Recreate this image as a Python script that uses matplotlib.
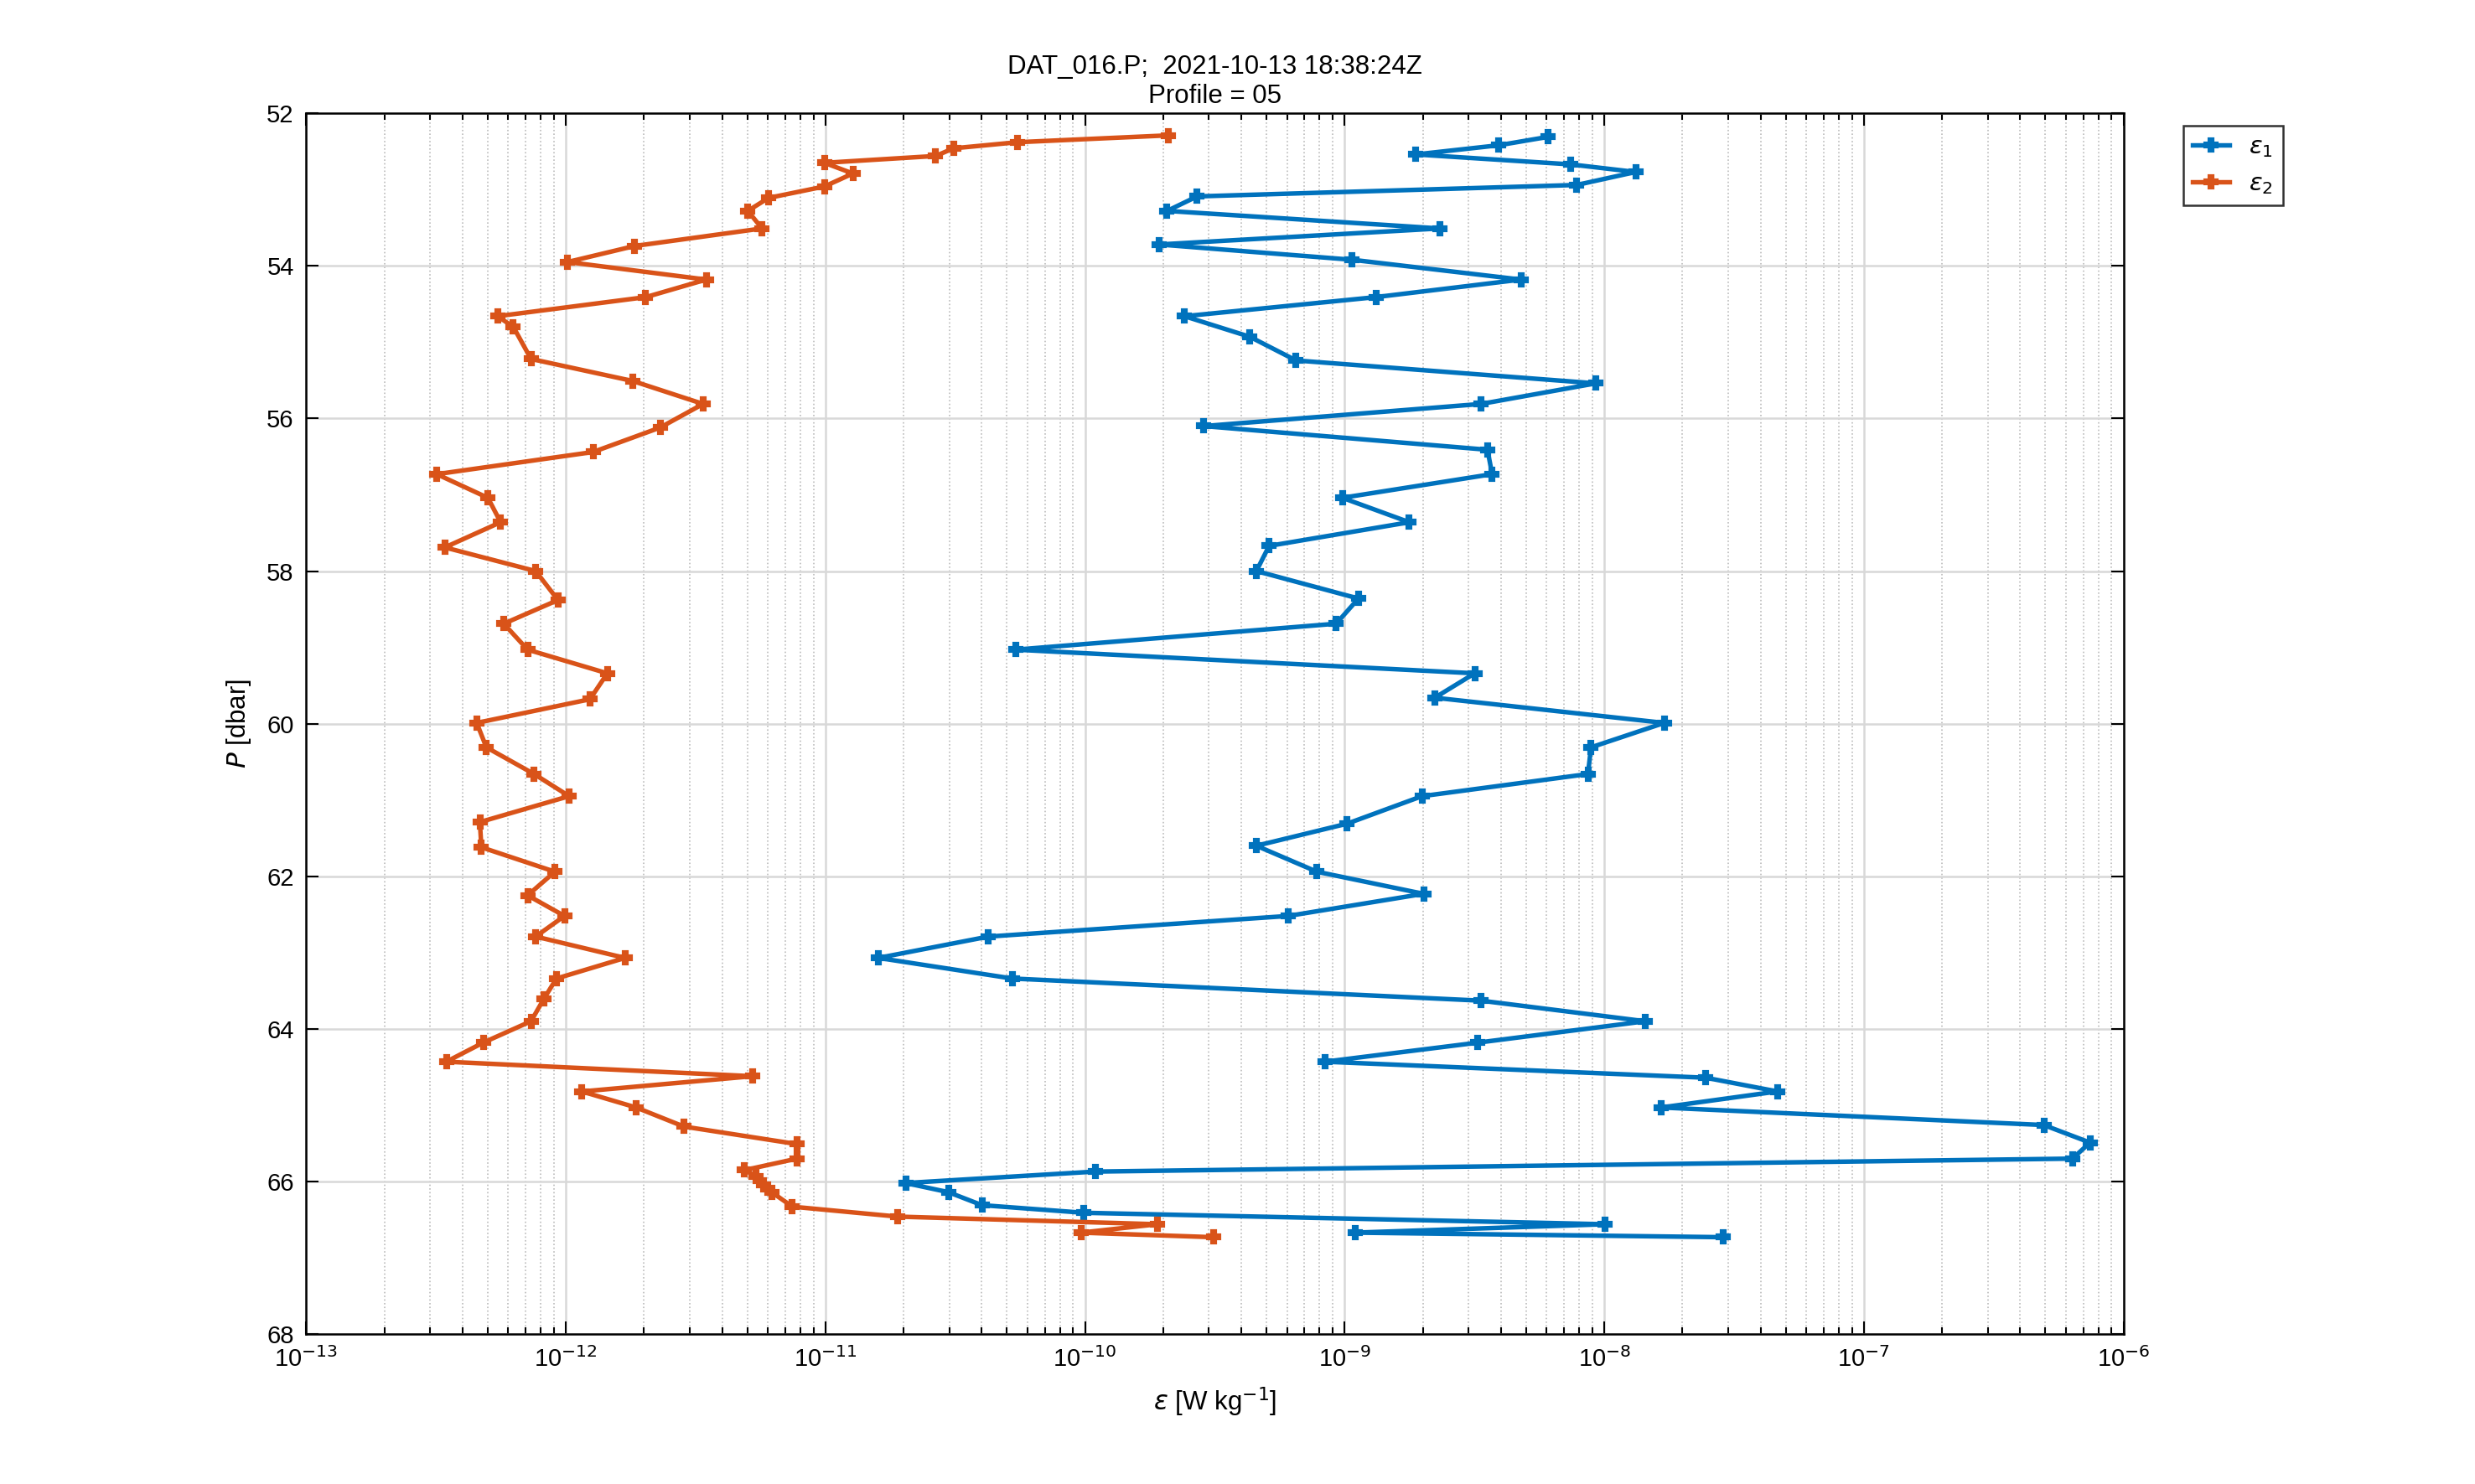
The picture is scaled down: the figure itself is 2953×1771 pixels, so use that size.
import numpy as np
import matplotlib
matplotlib.use("Agg")
import matplotlib.pyplot as plt

eps1_log = [-8.217,-8.407,-8.726,-8.131,-7.879,-8.106,-9.568,-9.684,-8.634,-9.715,-8.972,-8.321,-8.880,-9.617,-9.365,-9.187,-8.033,-8.475,-9.543,-8.450,-8.432,-9.009,-8.751,-9.291,-9.340,-8.947,-9.033,-10.268,-8.499,-8.653,-7.769,-8.051,-8.063,-8.702,-8.990,-9.340,-9.107,-8.696,-9.218,-10.372,-10.796,-10.280,-8.475,-7.842,-8.487,-9.076,-7.609,-7.333,-7.781,-6.307,-6.129,-6.197,-9.961,-10.691,-10.526,-10.397,-10.004,-7.996,-8.960,-7.541]
p1 = [52.31,52.42,52.54,52.67,52.77,52.94,53.09,53.28,53.51,53.72,53.92,54.18,54.41,54.66,54.93,55.24,55.54,55.81,56.10,56.41,56.73,57.04,57.36,57.67,58.00,58.36,58.69,59.03,59.34,59.66,59.99,60.31,60.66,60.95,61.31,61.60,61.94,62.23,62.52,62.79,63.07,63.34,63.63,63.90,64.18,64.43,64.64,64.82,65.03,65.26,65.49,65.70,65.87,66.02,66.14,66.31,66.41,66.56,66.67,66.73]
eps2_log = [-9.678,-10.261,-10.507,-10.575,-11.004,-10.894,-11.004,-11.219,-11.299,-11.244,-11.735,-11.993,-11.459,-11.692,-12.263,-12.202,-12.134,-11.741,-11.471,-11.637,-11.895,-12.497,-12.300,-12.251,-12.466,-12.116,-12.030,-12.239,-12.147,-11.840,-11.907,-12.343,-12.306,-12.122,-11.987,-12.331,-12.325,-12.042,-12.147,-12.005,-12.116,-11.772,-12.036,-12.085,-12.134,-12.318,-12.460,-11.281,-11.938,-11.729,-11.545,-11.109,-11.109,-11.311,-11.268,-11.238,-11.207,-11.127,-10.722,-9.721,-10.016,-9.506]
p2 = [52.29,52.38,52.46,52.56,52.65,52.79,52.96,53.11,53.28,53.51,53.74,53.95,54.18,54.41,54.66,54.80,55.22,55.51,55.81,56.12,56.44,56.73,57.04,57.36,57.69,58.00,58.38,58.69,59.03,59.34,59.68,59.99,60.31,60.66,60.95,61.29,61.62,61.94,62.25,62.52,62.79,63.07,63.34,63.61,63.90,64.18,64.43,64.62,64.82,65.03,65.28,65.51,65.70,65.85,65.93,66.04,66.14,66.33,66.46,66.56,66.67,66.73]

plt.rcParams['font.family'] = ['Liberation Sans', 'DejaVu Sans']
fig = plt.figure(figsize=(2953/300, 1771/300), dpi=300)
ax = fig.add_axes([0.1237, 0.101, 0.858-0.1237, 0.9237-0.101])
ax.plot(10**np.array(eps1_log), p1, '-P', color='#0072BD', lw=1.3, ms=3.5, label=r'$\epsilon_1$')
ax.plot(10**np.array(eps2_log), p2, '-P', color='#D95319', lw=1.3, ms=3.5, label=r'$\epsilon_2$')
ax.set_xscale('log')
ax.set_xlim(1e-13, 1e-6)
ax.set_ylim(68, 52)
ax.set_yticks(np.arange(52, 69, 2))
ax.set_xticks([10.0**k for k in range(-13, -5)])
ax.set_xticklabels([f'10$^{{{k}}}$' for k in range(-13, -5)])
ax.grid(True, which='major', color='#d8d8d8', lw=0.6)
ax.grid(True, which='minor', axis='x', color='#bbbbbb', lw=0.4, ls=':')
ax.tick_params(labelsize=7, direction='in', which='both', top=True, right=True, width=0.5)
for s in ax.spines.values():
    s.set_linewidth(0.6)
ax.set_xlabel(r'$\epsilon$ [W kg$^{-1}$]', fontsize=7.5)
ax.set_ylabel(r'$P$ [dbar]', fontsize=7.5)
ax.set_title('DAT_016.P;  2021-10-13 18:38:24Z\nProfile = 05', fontsize=7.5, pad=3)
leg = ax.legend(loc='upper left', bbox_to_anchor=(1.026, 1.0), fontsize=7, fancybox=False,
                edgecolor='black', handlelength=1.5, borderpad=0.4, labelspacing=0.5)
leg.get_frame().set_linewidth(0.6)
fig.savefig('out.png', dpi=300)
